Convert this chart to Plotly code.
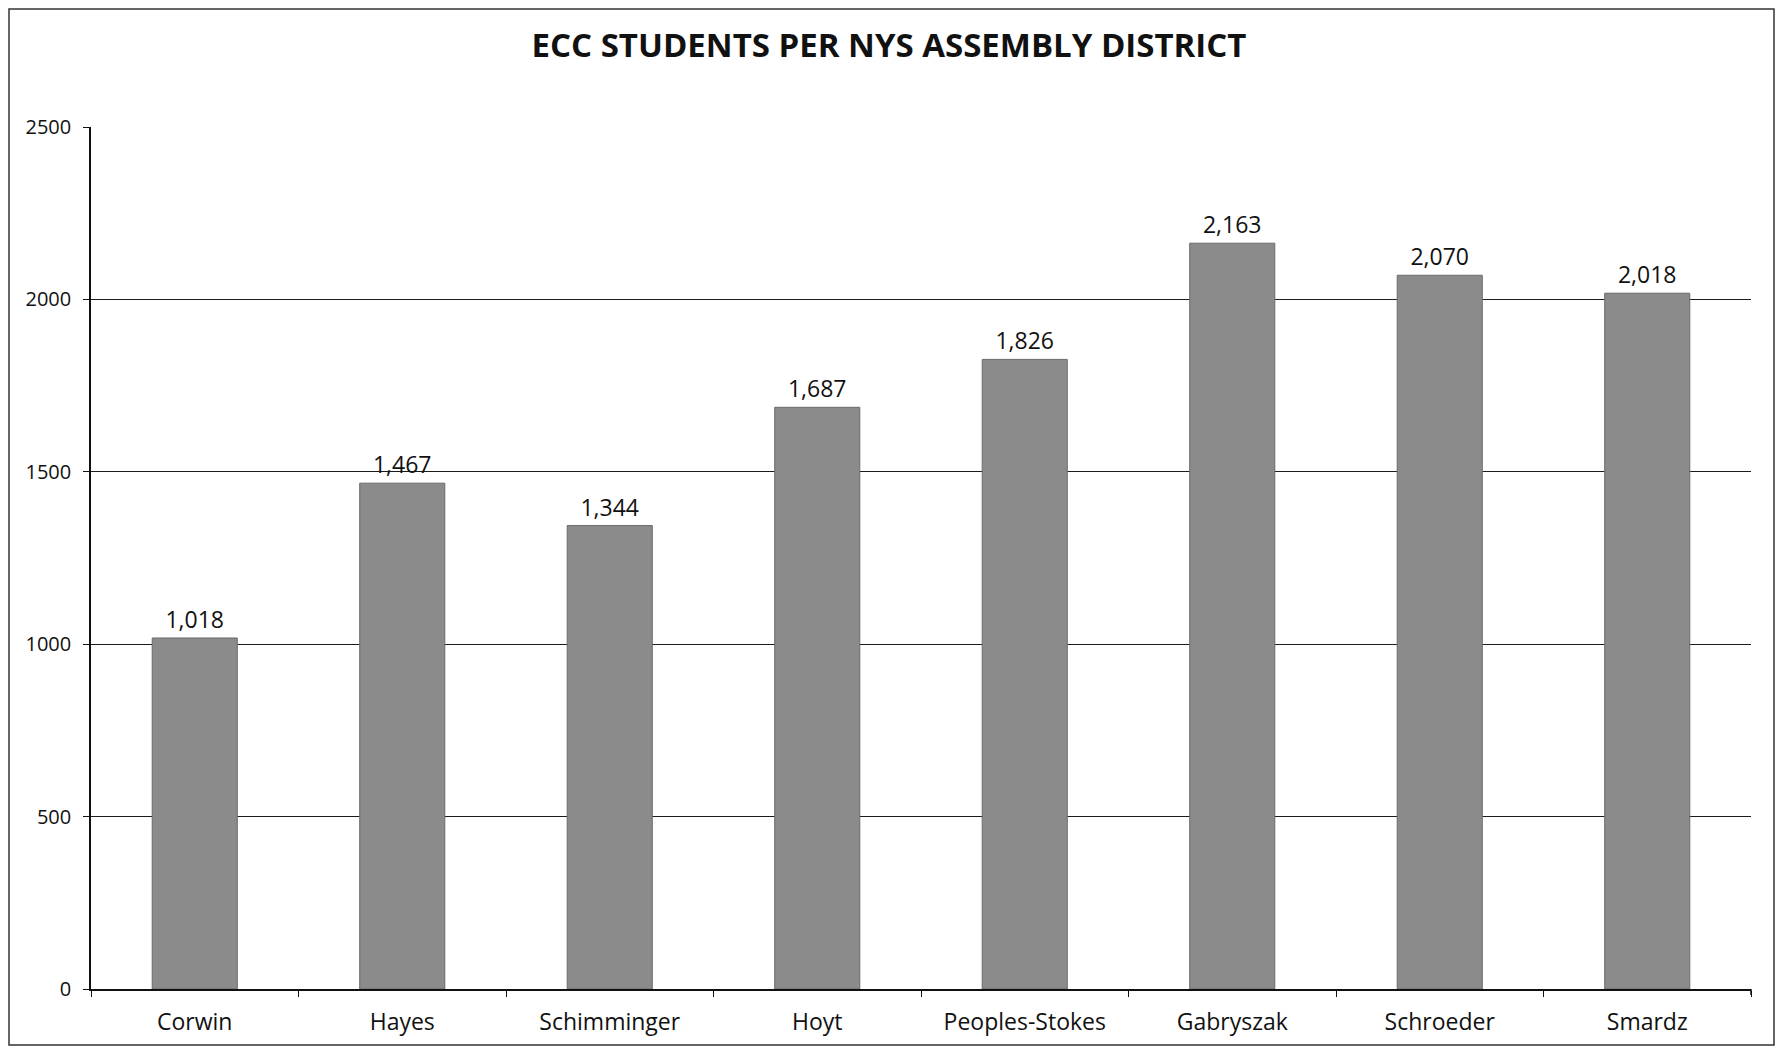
import plotly.graph_objects as go

categories = ["Corwin", "Hayes", "Schimminger", "Hoyt", "Peoples-Stokes", "Gabryszak", "Schroeder", "Smardz"]
students = [1018, 1467, 1344, 1687, 1826, 2163, 2070, 2018]
y_ticks = [0, 500, 1000, 1500, 2000, 2500]

# page has an 8px body margin; figure sized to fit inside the window
W, H = 1767, 1038
L, R, T, B = 83, 24, 119, 57
pw, ph = W - L - R, H - T - B

def px_x(x):
    return (x - L) / pw

def px_y(y):
    return (H - B - y) / ph

fig = go.Figure(go.Bar(
    x=categories, y=students,
    marker=dict(color="#8b8b8b", line=dict(color="#6a6a6a", width=1)),
    width=0.41,
    text=[f"{v:,}" for v in students],
    textposition="outside",
    textfont=dict(family="Open Sans", size=23, color="#111111"),
    cliponaxis=False,
))

fig.update_layout(
    width=W, height=H,
    margin=dict(l=L, r=R, t=T, b=B),
    paper_bgcolor="white", plot_bgcolor="white",
    showlegend=False,
    title=dict(text="<b>ECC STUDENTS PER NYS ASSEMBLY DISTRICT</b>",
               x=(889 - 8) / W, xanchor="center", y=1 - 37 / H, yanchor="middle",
               font=dict(family="Open Sans", size=33, color="#111111")),
    font=dict(family="Open Sans", color="#111111"),
    xaxis=dict(showline=True, linecolor="#111111", linewidth=1.5,
               ticks="outside", tickson="boundaries", ticklen=6, tickcolor="#111111",
               tickfont=dict(size=23, family="Open Sans"), showgrid=False,
               ticklabelstandoff=12, automargin=False, mirror=False),
    yaxis=dict(range=[0, 2500], tickvals=y_ticks, showline=True, linecolor="#111111",
               linewidth=1.5, ticks="outside", ticklen=6, tickcolor="#111111",
               showgrid=True, gridcolor="#1a1a1a", gridwidth=1.2,
               ticklabelstandoff=8, automargin=False,
               tickfont=dict(size=20, family="Open Sans"), zeroline=False),
    shapes=[
        dict(type="rect", xref="paper", yref="paper",
             x0=px_x(1), x1=px_x(W - 1), y0=px_y(1), y1=px_y(H - 1),
             line=dict(color="#333333", width=1.5), fillcolor="rgba(0,0,0,0)"),
        dict(type="line", xref="paper", yref="paper", x0=1, x1=1, y0=0, y1=-6 / ph,
             line=dict(color="#111111", width=1.5)),
    ],
)

fig.write_html("out.html")
